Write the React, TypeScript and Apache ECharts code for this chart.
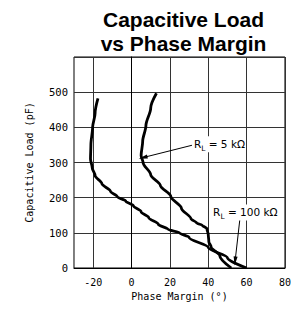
import React, { useEffect, useRef } from "react";
import * as echarts from "echarts";

const titleText = "Capacitive Load\nvs Phase Margin";
const xAxisTitle = "Phase Margin (°)";
const yAxisTitle = "Capacitive Load (pF)";

const xTickLabels = [-20, 0, 20, 40, 60, 80];
const yTickLabels = [0, 100, 200, 300, 400, 500];

// [phase margin (deg), capacitive load (pF)]
const rl100k: [number, number][] = [
  [-17.5, 482], [-19, 440], [-20.3, 400], [-21.2, 350], [-21.4, 310],
  [-20.5, 285], [-19, 263], [-15.5, 240], [-11, 218], [-7.5, 203],
  [-3, 190], [1, 177], [5, 160], [9, 143], [14, 124], [19, 110],
  [25, 100], [30, 87], [40, 58], [50, 29], [60, 0],
];

const rl5k: [number, number][] = [
  [13, 497], [10, 455], [7.5, 405], [5.8, 360], [5, 320], [6, 300],
  [10, 265], [15, 235], [20.5, 203], [26, 170], [31, 140], [34, 128],
  [37, 121], [39.3, 112], [40, 95], [40.3, 75], [41.5, 60], [46, 35],
  [52, 0],
];

const label5k = "R_L = 5 kΩ";
const label100k = "R_L = 100 kΩ";

const monoFont = "DejaVu Sans Mono";

function richLabel(s: string) {
  const rest = s.replace("R_L", "");
  return "{r|R}{s|L}{t|" + rest + "}";
}

const richStyles = {
  r: { fontFamily: "DejaVu Sans", fontSize: 10.5, color: "#000", verticalAlign: "middle" },
  s: { fontFamily: "DejaVu Sans", fontSize: 7.5, color: "#000", verticalAlign: "bottom", lineHeight: 16 },
  t: { fontFamily: "DejaVu Sans", fontSize: 10.5, color: "#000", verticalAlign: "middle" },
};

export default function App() {
  const ref = useRef<HTMLDivElement>(null);
  useEffect(() => {
    if (!ref.current) return;
    const chart = echarts.init(ref.current, null, { renderer: "svg" });
    const option: any = {
      animation: false,
      backgroundColor: "#fff",
      title: {
        text: titleText,
        left: 178.5,
        top: 2,
        textAlign: "center",
        textStyle: {
          fontFamily: "Liberation Sans",
          fontWeight: "bold",
          fontSize: 21,
          lineHeight: 24,
          color: "#000",
        },
      },
      grid: {
        left: 74,
        right: 8,
        top: 57,
        bottom: 50,
        show: true,
        borderColor: "#000",
        borderWidth: 1,
        containLabel: false,
      },
      xAxis: {
        type: "value",
        min: -30,
        max: 80,
        interval: 10,
        name: xAxisTitle,
        nameLocation: "middle",
        nameGap: 23,
        nameTextStyle: { fontFamily: monoFont, fontSize: 10, color: "#000" },
        axisLine: { show: true, onZero: false, lineStyle: { color: "#000", width: 1 } },
        axisTick: { show: false },
        axisLabel: {
          customValues: xTickLabels,
          margin: 9,
          fontFamily: monoFont,
          fontSize: 10,
          color: "#000",
          formatter: (v: number) => (xTickLabels.includes(v) ? String(v) : ""),
        },
        splitLine: {
          show: true,
          lineStyle: { color: ["rgba(0,0,0,0)", "#333"], width: 1 },
        },
      },
      yAxis: {
        type: "value",
        min: 0,
        max: 600,
        interval: 100,
        name: yAxisTitle,
        nameLocation: "middle",
        nameGap: 40,
        nameTextStyle: { fontFamily: monoFont, fontSize: 10, color: "#000" },
        axisLine: { show: true, lineStyle: { color: "#000", width: 1 } },
        axisTick: { show: false },
        axisLabel: {
          customValues: yTickLabels,
          margin: 6,
          fontFamily: monoFont,
          fontSize: 10.5,
          color: "#000",
          formatter: (v: number) => (yTickLabels.includes(v) ? String(v) : ""),
        },
        splitLine: { show: true, lineStyle: { color: "#333", width: 1 } },
      },
      series: [
        {
          name: "RL = 100 kΩ",
          type: "line",
          data: rl100k,
          showSymbol: false,
          smooth: 0.3,
          smoothMonotone: "y",
          lineStyle: { color: "#000", width: 2.8 },
          z: 5,
          markLine: {
            silent: true,
            symbol: ["none", "triangle"],
            symbolSize: [4, 9],
            label: { show: false },
            lineStyle: { color: "#000", width: 1, type: "solid" },
            data: [[{ coord: [56.5, 140] }, { coord: [54, 20] }]],
          },
          markPoint: {
            silent: true,
            symbol: "circle",
            symbolSize: 0,
            itemStyle: { color: "rgba(0,0,0,0)" },
            data: [
              {
                coord: [42, 158],
                label: {
                  show: true,
                  position: "right",
                  distance: 0,
                  backgroundColor: "#fff",
                  padding: [0, 1],
                  formatter: richLabel(label100k),
                  rich: richStyles,
                },
              },
            ],
          },
        },
        {
          name: "RL = 5 kΩ",
          type: "line",
          data: rl5k,
          showSymbol: false,
          smooth: 0.3,
          smoothMonotone: "y",
          lineStyle: { color: "#000", width: 2.8 },
          z: 5,
          markLine: {
            silent: true,
            symbol: ["none", "triangle"],
            symbolSize: [4, 9],
            label: { show: false },
            lineStyle: { color: "#000", width: 1, type: "solid" },
            data: [[{ coord: [31.5, 349] }, { coord: [6, 314] }]],
          },
          markPoint: {
            silent: true,
            symbol: "circle",
            symbolSize: 0,
            itemStyle: { color: "rgba(0,0,0,0)" },
            data: [
              {
                coord: [32, 352],
                label: {
                  show: true,
                  position: "right",
                  distance: 0,
                  backgroundColor: "#fff",
                  padding: [0, 1],
                  formatter: richLabel(label5k),
                  rich: richStyles,
                },
              },
            ],
          },
        },
      ],
    };
    chart.setOption(option);
    return () => chart.dispose();
  }, []);
  return (
    <div
      ref={ref}
      style={{ position: "fixed", left: 0, top: 0, width: 294, height: 318, background: "#fff" }}
    />
  );
}
